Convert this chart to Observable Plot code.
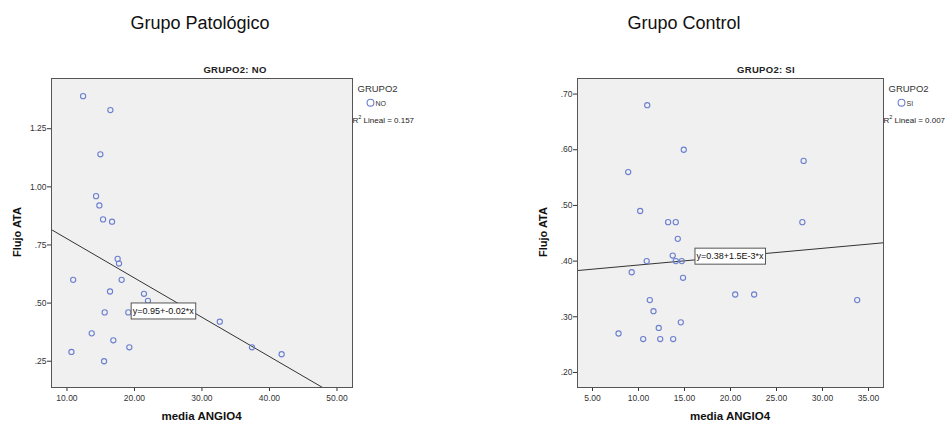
<!DOCTYPE html>
<html><head><meta charset="utf-8">
<script src="https://cdn.jsdelivr.net/npm/d3@7"></script>
<script src="https://cdn.jsdelivr.net/npm/@observablehq/plot@0.6"></script>
<style>
body{margin:0;background:#fff;font-family:"Liberation Sans",Arial,sans-serif;}
#wrap{position:relative;width:946px;height:425px;overflow:hidden;background:#fff;}
.panel{position:absolute;top:0;}
#ov{position:absolute;left:0;top:0;pointer-events:none;}
</style></head><body><div id="wrap"></div>
<script>
// ---- data ----
const titles = ["Grupo Patológico", "Grupo Control"];
const subtitles = ["GRUPO2: NO", "GRUPO2: SI"];
const legendTitle = "GRUPO2";
const legendCats = ["NO", "SI"];
const r2Values = ["0.157", "0.007"];
const fitLabels = ["y=0.95+-0.02*x", "y=0.38+1.5E-3*x"];
const fitIntercepts = [0.946, 0.378];
const fitSlopes = [-0.0169, 0.0015];
const fitLabelX = [24.33, 20.0];
const fitLabelY = [0.464, 0.408];
const xLabel = "media ANGIO4";
const yLabel = "Flujo ATA";

const leftX = [12.39,16.43,14.95,14.31,14.80,15.35,16.68,17.51,17.71,10.92,18.10,16.38,21.41,22.00,15.59,19.09,32.64,13.67,16.87,19.24,37.41,10.66,41.80,15.50];
const leftY = [1.39,1.33,1.14,0.96,0.92,0.86,0.85,0.69,0.67,0.60,0.60,0.55,0.54,0.51,0.46,0.46,0.42,0.37,0.34,0.31,0.31,0.29,0.28,0.25];
const rightX = [10.95,14.92,8.88,27.95,10.18,13.22,14.05,27.81,14.27,13.72,10.89,14.05,14.70,9.26,14.84,20.51,22.57,33.77,11.23,11.63,14.60,12.20,7.83,10.51,12.36,13.77];
const rightY = [0.68,0.60,0.56,0.58,0.49,0.47,0.47,0.47,0.44,0.41,0.40,0.40,0.40,0.38,0.37,0.34,0.34,0.33,0.33,0.31,0.29,0.28,0.27,0.26,0.26,0.26];

const leftXTicks = [10, 20, 30, 40, 50];
const leftYTicks = [0.25, 0.50, 0.75, 1.00, 1.25];
const rightXTicks = [5, 10, 15, 20, 25, 30, 35];
const rightYTicks = [0.20, 0.30, 0.40, 0.50, 0.60, 0.70];

// ---- layout ----
const panels = [
  {xs: leftX, ys: leftY, xt: leftXTicks, yt: leftYTicks, xd: [7.71, 52.3], yd: [0.137, 1.466],
   off: 0, m: {t: 78, b: 38, l: 51, r: 121}, sub: 235, legX: 352.7},
  {xs: rightX, ys: rightY, xt: rightXTicks, yt: rightYTicks, xd: [3.37, 36.63], yd: [0.173, 0.728],
   off: 473, m: {t: 78, b: 38, l: 104, r: 63}, sub: 766, legX: 883.3}
];
const ptColor = "#6b7fcf";
const fmtX = d3.format(".2f");
const fmtY = d => d3.format(".2f")(d).replace(/^0\./, ".");

const wrap = document.getElementById("wrap");
const NS = "http://www.w3.org/2000/svg";
const ov = document.createElementNS(NS, "svg");
ov.setAttribute("id", "ov"); ov.setAttribute("width", 946); ov.setAttribute("height", 425);

function txt(x, y, s, opts = {}) {
  const t = document.createElementNS(NS, "text");
  t.setAttribute("x", x); t.setAttribute("y", y);
  t.setAttribute("dominant-baseline", "central");
  t.setAttribute("text-anchor", opts.anchor || "start");
  t.setAttribute("font-family", "Liberation Sans, Arial, sans-serif");
  t.setAttribute("font-size", opts.size || 10);
  if (opts.weight) t.setAttribute("font-weight", opts.weight);
  t.setAttribute("fill", opts.fill || "#222");
  if (opts.rotate) t.setAttribute("transform", `rotate(-90 ${x} ${y})`);
  if (opts.ls) t.setAttribute("letter-spacing", opts.ls);
  t.textContent = s;
  ov.appendChild(t);
  return t;
}

panels.forEach((p, i) => {
  const data = p.xs.map((x, j) => ({x, y: p.ys[j]}));
  const fit = p.xd.map(x => ({x, y: fitIntercepts[i] + fitSlopes[i] * x}));
  const chart = Plot.plot({
    width: 473, height: 425,
    marginTop: p.m.t, marginBottom: p.m.b, marginLeft: p.m.l, marginRight: p.m.r,
    style: {fontFamily: "Liberation Sans, Arial, sans-serif", fontSize: "8.5px", color: "#333", background: "transparent"},
    x: {domain: p.xd}, y: {domain: p.yd},
    marks: [
      Plot.frame({fill: "#f0f0f0", stroke: null}),
      Plot.axisX({ticks: p.xt, tickFormat: fmtX, tickSize: 4, tickPadding: 3, label: null, stroke: "#333"}),
      Plot.axisY({ticks: p.yt, tickFormat: fmtY, tickSize: 4, tickPadding: 1, label: null, stroke: "#333"}),
      Plot.line(fit, {x: "x", y: "y", stroke: "#333", strokeWidth: 1, clip: true}),
      Plot.dot(data, {x: "x", y: "y", r: 2.6, stroke: ptColor, strokeWidth: 1.1, fill: "none"}),
      Plot.frame({stroke: "#555", strokeWidth: 1})
    ]
  });
  chart.classList.add("panel");
  chart.style.left = p.off + "px";
  wrap.appendChild(chart);

  const sx = chart.scale("x"), sy = chart.scale("y");
  const fl = p.off + p.m.l, fr = p.off + 473 - p.m.r;
  // titles
  txt(i === 0 ? 200 : 684, 23, titles[i], {anchor: "middle", size: 18, fill: "#111"});
  txt(p.sub, 69.5, subtitles[i], {anchor: "middle", size: 9.5, weight: "bold", fill: "#222", ls: "0.3"});
  // axis labels
  txt((fl + fr) / 2, 416, xLabel, {anchor: "middle", size: 11.5, weight: "bold", fill: "#111"});
  txt(fl - 34, 232, yLabel, {anchor: "middle", size: 11, weight: "bold", fill: "#111", rotate: true});
  // legend
  txt(fr + 5.5, 88, legendTitle, {size: 9.5, fill: "#333"});
  const c = document.createElementNS(NS, "circle");
  c.setAttribute("cx", fr + 18.5); c.setAttribute("cy", 102.7); c.setAttribute("r", 3.4);
  c.setAttribute("fill", "none"); c.setAttribute("stroke", ptColor); c.setAttribute("stroke-width", 1.1);
  ov.appendChild(c);
  txt(fr + 23.5, 103, legendCats[i], {size: 7, fill: "#333"});
  const rt = txt(fr + 0.5, 119.5, "", {size: 8, fill: "#222"});
  const a = document.createElementNS(NS, "tspan"); a.textContent = "R";
  const b = document.createElementNS(NS, "tspan"); b.textContent = "2"; b.setAttribute("font-size", 5.5); b.setAttribute("dy", -3);
  const cc = document.createElementNS(NS, "tspan"); cc.textContent = " Lineal = " + r2Values[i]; cc.setAttribute("dy", 3);
  rt.append(a, b, cc);
  // fit label box
  const lx = p.off + sx.apply(fitLabelX[i]), ly = sy.apply(fitLabelY[i]);
  const g = document.createElementNS(NS, "g");
  ov.appendChild(g);
  const rect = document.createElementNS(NS, "rect");
  g.appendChild(rect);
  const lt = txt(lx, ly, fitLabels[i], {anchor: "middle", size: 9, fill: "#111"});
  g.appendChild(lt);
  wrap.appendChild(ov);
  const bb = lt.getBBox();
  rect.setAttribute("x", bb.x - 1.5); rect.setAttribute("y", ly - 8);
  rect.setAttribute("width", bb.width + 3); rect.setAttribute("height", 16);
  rect.setAttribute("fill", "#fff"); rect.setAttribute("stroke", "#555"); rect.setAttribute("stroke-width", 1);
});
wrap.appendChild(ov);
</script></body></html>
